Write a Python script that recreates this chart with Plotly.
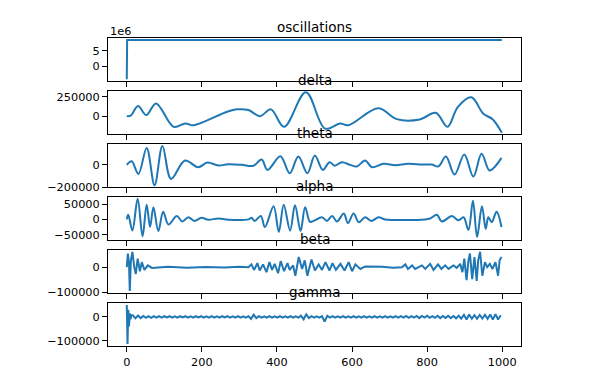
import plotly.graph_objects as go

# ---------------- data ----------------
osc_x = [0, 1, 999]
osc_y = [-4260000, 8500000, 8500000]

delta_x = [0, 10, 30, 52, 78, 125, 156, 178, 267, 293, 324, 355, 384, 419, 477,
           528, 568, 590, 670, 719, 780, 823, 854, 882, 918, 949, 975, 999]
delta_y = [0, 5000, 130000, 13000, 164000, -138000, -95000, -117000, 56000, 87000,
           78000, 0, 87000, -138000, 307000, -160000, -95000, -117000, 100000, -39000,
           -43000, 43000, -138000, 120000, 242000, 35000, -43000, -215000]

theta_x = [0, 13, 31, 53, 74, 95, 118, 155, 190, 215,
           244, 270, 306, 337, 359, 375, 409, 434, 457, 481,
           501, 522, 540, 554, 573, 595, 613, 635, 653, 684,
           715, 750, 786, 812, 830, 850, 873, 899, 923, 945,
           966, 981, 998]
theta_y = [0, 32000, -81000, 152000, -182000, 170000, -126000, 39000, -21000, 21000,
           -5000, 5000, 0, -9000, 48000, -45000, 77000, -75000, 74000, -75000,
           83000, -45000, 23000, -7000, 23000, 0, -14000, 39000, -21000, 9000,
           -3000, 9000, 3000, 3000, -14000, 74000, -87000, 92000, -105000, 99000,
           -51000, -14000, 63000]

alpha_x = [0, 4, 15, 29, 42, 53, 62, 71, 84, 97,
           111, 133, 148, 164, 180, 199, 217, 244, 270, 324,
           332, 341, 357, 368, 391, 405, 418, 435, 448, 463,
           475, 488, 498, 520, 533, 547, 560, 578, 589, 604,
           618, 635, 651, 671, 688, 795, 808, 826, 839, 866,
           883, 897, 910, 922, 933, 946, 956, 963, 972, 985,
           998]
alpha_y = [0, 15000, -36000, 67000, -55000, 48000, -25000, 40000, -38000, 25000,
           -17000, 11000, -7000, 7000, -5000, 5000, -1000, 3000, -1000, 0,
           5000, -5000, 11000, -25000, 43000, -41000, 48000, -36000, 46000, -38000,
           40000, -8000, -5000, 7000, -5000, 11000, -7000, 19000, -12000, 19000,
           -9000, 7000, -5000, 7000, 0, 0, 3000, 15000, -7000, 11000,
           -3000, 7000, -34000, 61000, -57000, 43000, -31000, 7000, -9000, 25000,
           -25000]

beta_x = [0, 3, 6, 8, 11, 15, 20, 24, 29, 35,
          40, 47, 56, 67, 110, 160, 210, 260, 300, 324,
          332, 339, 348, 354, 363, 372, 380, 387, 394, 403,
          410, 419, 428, 434, 443, 449, 458, 467, 474, 481,
          492, 501, 511, 520, 529, 540, 548, 557, 569, 580,
          591, 600, 609, 622, 635, 680, 710, 733, 742, 749,
          760, 768, 786, 795, 808, 817, 829, 838, 848, 857,
          870, 879, 888, 894, 899, 905, 910, 914, 920, 926,
          932, 936, 941, 947, 954, 960, 967, 974, 982, 989,
          993, 998]
beta_y = [0, 54000, 13000, -94000, 27000, 60000, 0, -27000, 34000, -16000,
          20000, -11000, 7000, -3000, 2000, -2000, 1000, -1000, 2000, 0,
          11000, -11000, 16000, -13000, 11000, -20000, 20000, -11000, 13000, -24000,
          24000, -16000, 16000, -11000, 7000, -34000, 40000, -7000, 27000, -34000,
          30000, -13000, 11000, -11000, 20000, -13000, 16000, -11000, 13000, -13000,
          20000, -16000, 11000, -7000, 3000, 2000, -2000, 0, 11000, -7000,
          7000, -7000, 7000, -7000, 13000, -11000, 11000, -7000, 7000, -7000,
          7000, -3000, 13000, -20000, 34000, -51000, 27000, 54000, -47000, 40000,
          -54000, 27000, 61000, -34000, 20000, 0, 13000, -7000, 20000, -34000,
          27000, 40000]

gamma_x = [0, 2, 4, 6, 8, 10, 12] + list(range(16, 997, 7))
gamma_k = [50, -114, 30, -40, 15, -10, 8,
           7, -6, 6, -5, 4, -4, 3, -4, 3, -3, 3, -3, 3, -2, 3, -3, 2, -3, 3, -2,
           3, -3, 2, -3, 3, -2, 3, -3, 2, -3, 3, -3, 2, -3, 3, -2, 3, -3, 2, -3,
           3, -3, 2, -3, 3, -8, 9, -5, 3, -3, 2, -3, 3, -3, 2, -3, 3, -3, 2, -3,
           3, -3, 2, -3, 5, -10, 11, -5, 3, -3, 2, -3, 3, -20, 5, -3, 3, -3, 2, -3,
           3, -3, 2, -3, 3, -3, 2, -3, 3, -3, 2, -3, 3, -3, 2, -3, 3, -3, 2, -3,
           3, -3, 3, -3, 4, -4, 3, -3, 4, -5, 4, -3, 5, -4, 3, -4, 5, -5, 4, -4,
           5, -5, 4, -6, 5, -7, 9, -11, 10, -8, 7, -8, 8, -7, 9, -8, 10, -11, 12, -11, 7]
gamma_y = [v * 1000 for v in gamma_k]

titles = ["oscillations", "delta", "theta", "alpha", "beta", "gamma"]
series_x = [osc_x, delta_x, theta_x, alpha_x, beta_x, gamma_x]
series_y = [osc_y, delta_y, theta_y, alpha_y, beta_y, gamma_y]
smooth = [False, True, True, True, False, False]

y_tickvals = [[0, 5000000], [0, 250000], [-200000, 0], [-50000, 0, 50000],
              [-100000, 0], [-100000, 0]]
y_ticktext = [["0", "5"], ["0", "250000"], ["\u2212200000", "0"],
              ["\u221250000", "0", "50000"], ["\u2212100000", "0"], ["\u2212100000", "0"]]
y_ranges = [[-4900000, 9150000], [-233000, 324000], [-200000, 188000],
            [-67700, 73700], [-102400, 68800], [-122600, 60000]]
x_ticks = [0, 200, 400, 600, 800, 1000]

# ---------------- figure ----------------
# the page body adds an 8px offset, so margins are reduced by 8 on top/left
W, H = 611, 384
MT, ML = 30, 100
PH, PW = 308, 413
MB = H - MT - PH
MR = W - ML - PW
STEP, BOX = 52.94, 43.3
FONT = "DejaVu Sans"
COLOR = "#1f77b4"

fig = go.Figure()
layout = dict(
    width=W, height=H,
    margin=dict(t=MT, b=MB, l=ML, r=MR, pad=0),
    paper_bgcolor="white", plot_bgcolor="white",
    showlegend=False,
    font=dict(family=FONT, size=11.3, color="black"),
)
annotations = []
for i in range(6):
    sfx = "" if i == 0 else str(i + 1)
    top_px = i * STEP
    d_top = 1 - top_px / PH
    d_bot = max(1 - (top_px + BOX) / PH, 0)
    fig.add_trace(go.Scatter(
        x=series_x[i], y=series_y[i], mode="lines",
        line=dict(color=COLOR, width=2, shape="spline" if smooth[i] else "linear",
                  smoothing=1.0),
        xaxis="x" + sfx, yaxis="y" + sfx, hoverinfo="skip"))
    layout["xaxis" + sfx] = dict(
        domain=[0, 1], anchor="y" + sfx, range=[-50, 1050],
        tickvals=x_ticks, ticktext=[str(t) for t in x_ticks],
        showticklabels=(i == 5), ticks="outside", ticklen=5, tickwidth=1,
        tickcolor="black", showline=True, mirror=True, linecolor="black",
        linewidth=1, showgrid=False, zeroline=False, automargin=False,
        tickfont=dict(family=FONT, size=11.3, color="black"))
    layout["yaxis" + sfx] = dict(
        domain=[d_bot, d_top], anchor="x" + sfx, range=y_ranges[i],
        tickvals=y_tickvals[i], ticktext=y_ticktext[i],
        ticks="outside", ticklen=5, tickwidth=1, tickcolor="black",
        showline=True, mirror=True, linecolor="black", linewidth=1,
        showgrid=False, zeroline=False, automargin=False,
        tickfont=dict(family=FONT, size=11.3, color="black"))
    annotations.append(dict(
        text=titles[i], xref="paper", yref="paper", x=0.5, y=d_top,
        xanchor="center", yanchor="bottom", yshift=1, showarrow=False,
        font=dict(family=FONT, size=13.5, color="black")))

annotations.append(dict(
    text="1e6", xref="paper", yref="paper", x=0, y=1,
    xanchor="left", yanchor="bottom", yshift=-2, showarrow=False,
    font=dict(family=FONT, size=11.3, color="black")))
layout["annotations"] = annotations
fig.update_layout(**layout)
fig.write_html("out.html")
